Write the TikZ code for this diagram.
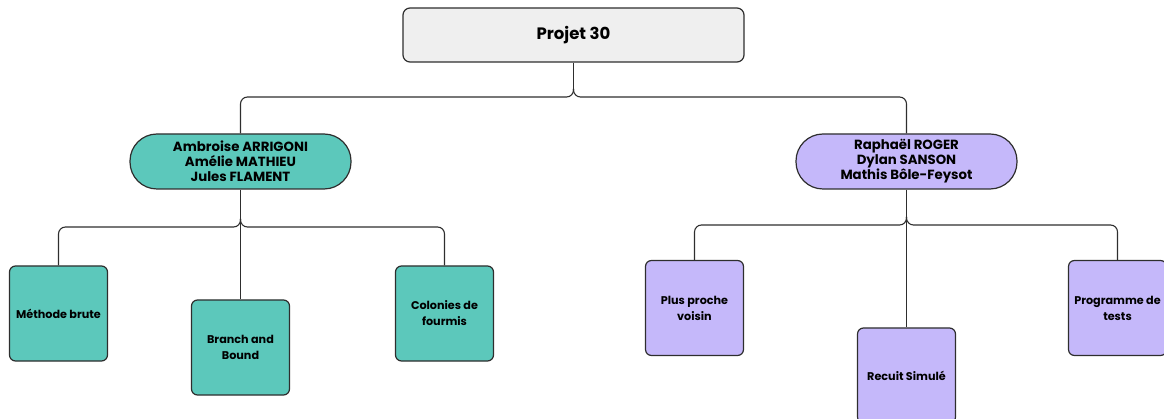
\documentclass[tikz,border=0pt]{standalone}
\usepackage{fontspec}
\setmainfont{Poppins}
\definecolor{teal}{HTML}{5CC8BB}
\definecolor{lilac}{HTML}{C5B8FA}
\definecolor{topgray}{HTML}{EFEFEF}
\definecolor{edge}{HTML}{2E2E2E}
\tikzset{
  topbox/.style={draw=edge, line width=1.2pt, fill=topgray, rounded corners=7pt, minimum width=341pt, minimum height=54pt, font=\fontsize{16.5}{18}\selectfont\bfseries},
  groupbox/.style={draw=edge, line width=1.2pt, rounded corners=27pt, minimum width=221pt, minimum height=55pt, align=center, font=\fontsize{13.3}{15}\selectfont\bfseries},
  leafbox/.style={draw=edge, line width=1.2pt, rounded corners=6pt, minimum width=98pt, minimum height=95pt, align=center, font=\fontsize{11.2}{16}\selectfont\bfseries},
  conn/.style={draw=edge, line width=1.1pt, rounded corners=7pt},
}
\begin{document}
\begin{tikzpicture}[x=1pt,y=-1pt]
\useasboundingbox (0,0) rectangle (1164,419);
\clip (0,0) rectangle (1164,419);
\node[topbox] (P) at (573.5,35) {Projet 30};
\node[groupbox, fill=teal] (L) at (240.5,161.5) {Ambroise ARRIGONI\\Amélie MATHIEU\\Jules FLAMENT};
\node[groupbox, fill=lilac] (R) at (906.5,161.5) {Raphaël ROGER\\Dylan SANSON\\Mathis Bôle-Feysot};
\node[leafbox, fill=teal] (m1) at (58.5,313.5) {Méthode brute};
\node[leafbox, fill=teal] (m2) at (240.5,347.5) {Branch and\\Bound};
\node[leafbox, fill=teal] (m3) at (444.5,313.5) {Colonies de\\fourmis};
\node[leafbox, fill=lilac] (n1) at (694.5,308) {Plus proche\\voisin};
\node[leafbox, fill=lilac] (n2) at (906.5,375.5) {Recuit Simulé};
\node[leafbox, fill=lilac] (n3) at (1117.5,308) {Programme de\\tests};
\coordinate (hb) at (573.5,97);
\coordinate (hbu) at (573.5,89);
\coordinate (lb) at (240.5,227);
\coordinate (lbu) at (240.5,219);
\coordinate (rb) at (906.5,225);
\coordinate (rbu) at (906.5,217);
\draw[conn] (P.south) -- (hbu);
\draw[conn] (hbu) -- (hb) -- (hb -| L.north) -- (L.north);
\draw[conn] (hbu) -- (hb) -- (hb -| R.north) -- (R.north);
\draw[conn] (L.south) -- (m2.north);
\draw[conn] (lbu) -- (lb) -- (lb -| m1.north) -- (m1.north);
\draw[conn] (lbu) -- (lb) -- (lb -| m3.north) -- (m3.north);
\draw[conn] (R.south) -- (n2.north);
\draw[conn] (rbu) -- (rb) -- (rb -| n1.north) -- (n1.north);
\draw[conn] (rbu) -- (rb) -- (rb -| n3.north) -- (n3.north);
\end{tikzpicture}
\end{document}
